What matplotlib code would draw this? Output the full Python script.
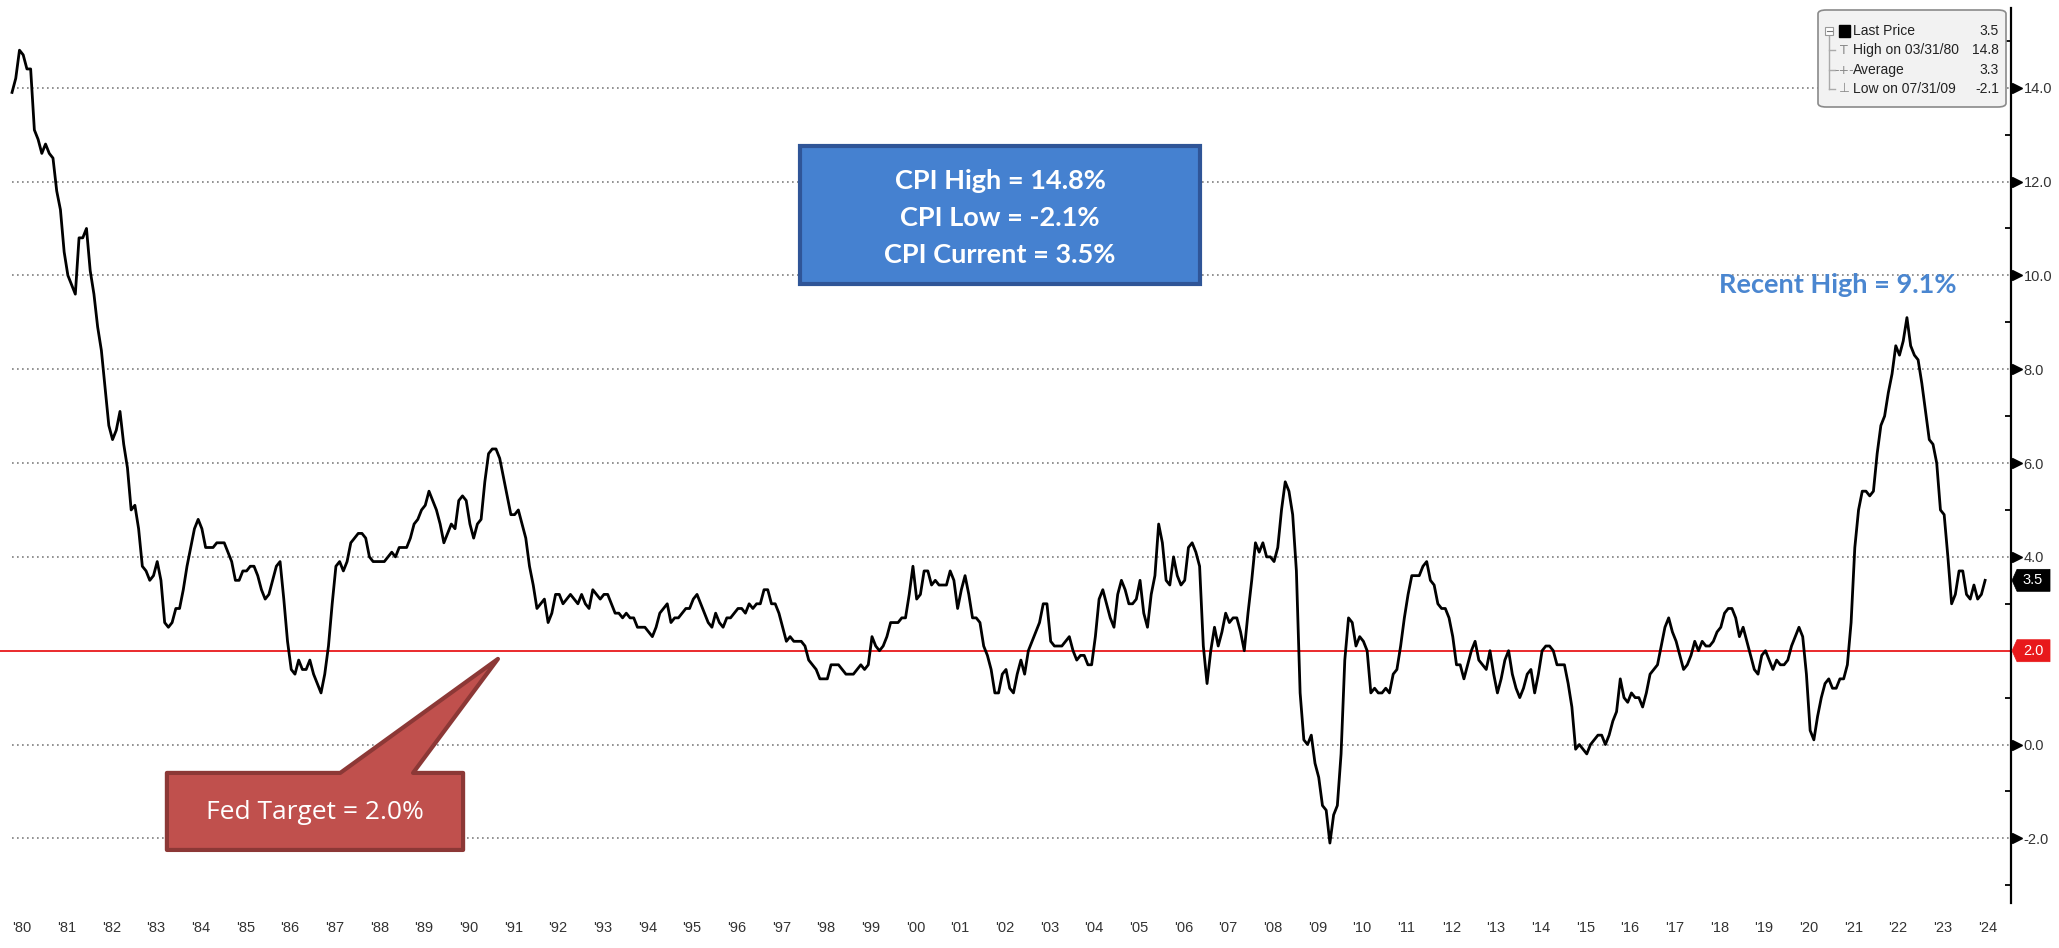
# US CPI year-over-year, Bloomberg-style chart with annotations.

import numpy as np
import matplotlib.pyplot as plt
import matplotlib.transforms as mtransforms
from matplotlib.patches import Polygon, FancyBboxPatch, Rectangle
from matplotlib.lines import Line2D

# monthly CPI YoY %, Jan 1980 .. Mar 2024
cpi_yoy = [
    13.9, 14.2, 14.8, 14.7, 14.4, 14.4, 13.1, 12.9, 12.6, 12.8, 12.6, 12.5,  # 1980
    11.8, 11.4, 10.5, 10.0, 9.8, 9.6, 10.8, 10.8, 11.0, 10.1, 9.6, 8.9,      # 1981
    8.4, 7.6, 6.8, 6.5, 6.7, 7.1, 6.4, 5.9, 5.0, 5.1, 4.6, 3.8,              # 1982
    3.7, 3.5, 3.6, 3.9, 3.5, 2.6, 2.5, 2.6, 2.9, 2.9, 3.3, 3.8,              # 1983
    4.2, 4.6, 4.8, 4.6, 4.2, 4.2, 4.2, 4.3, 4.3, 4.3, 4.1, 3.9,              # 1984
    3.5, 3.5, 3.7, 3.7, 3.8, 3.8, 3.6, 3.3, 3.1, 3.2, 3.5, 3.8,              # 1985
    3.9, 3.1, 2.2, 1.6, 1.5, 1.8, 1.6, 1.6, 1.8, 1.5, 1.3, 1.1,              # 1986
    1.5, 2.1, 3.0, 3.8, 3.9, 3.7, 3.9, 4.3, 4.4, 4.5, 4.5, 4.4,              # 1987
    4.0, 3.9, 3.9, 3.9, 3.9, 4.0, 4.1, 4.0, 4.2, 4.2, 4.2, 4.4,              # 1988
    4.7, 4.8, 5.0, 5.1, 5.4, 5.2, 5.0, 4.7, 4.3, 4.5, 4.7, 4.6,              # 1989
    5.2, 5.3, 5.2, 4.7, 4.4, 4.7, 4.8, 5.6, 6.2, 6.3, 6.3, 6.1,              # 1990
    5.7, 5.3, 4.9, 4.9, 5.0, 4.7, 4.4, 3.8, 3.4, 2.9, 3.0, 3.1,              # 1991
    2.6, 2.8, 3.2, 3.2, 3.0, 3.1, 3.2, 3.1, 3.0, 3.2, 3.0, 2.9,              # 1992
    3.3, 3.2, 3.1, 3.2, 3.2, 3.0, 2.8, 2.8, 2.7, 2.8, 2.7, 2.7,              # 1993
    2.5, 2.5, 2.5, 2.4, 2.3, 2.5, 2.8, 2.9, 3.0, 2.6, 2.7, 2.7,              # 1994
    2.8, 2.9, 2.9, 3.1, 3.2, 3.0, 2.8, 2.6, 2.5, 2.8, 2.6, 2.5,              # 1995
    2.7, 2.7, 2.8, 2.9, 2.9, 2.8, 3.0, 2.9, 3.0, 3.0, 3.3, 3.3,              # 1996
    3.0, 3.0, 2.8, 2.5, 2.2, 2.3, 2.2, 2.2, 2.2, 2.1, 1.8, 1.7,              # 1997
    1.6, 1.4, 1.4, 1.4, 1.7, 1.7, 1.7, 1.6, 1.5, 1.5, 1.5, 1.6,              # 1998
    1.7, 1.6, 1.7, 2.3, 2.1, 2.0, 2.1, 2.3, 2.6, 2.6, 2.6, 2.7,              # 1999
    2.7, 3.2, 3.8, 3.1, 3.2, 3.7, 3.7, 3.4, 3.5, 3.4, 3.4, 3.4,              # 2000
    3.7, 3.5, 2.9, 3.3, 3.6, 3.2, 2.7, 2.7, 2.6, 2.1, 1.9, 1.6,              # 2001
    1.1, 1.1, 1.5, 1.6, 1.2, 1.1, 1.5, 1.8, 1.5, 2.0, 2.2, 2.4,              # 2002
    2.6, 3.0, 3.0, 2.2, 2.1, 2.1, 2.1, 2.2, 2.3, 2.0, 1.8, 1.9,              # 2003
    1.9, 1.7, 1.7, 2.3, 3.1, 3.3, 3.0, 2.7, 2.5, 3.2, 3.5, 3.3,              # 2004
    3.0, 3.0, 3.1, 3.5, 2.8, 2.5, 3.2, 3.6, 4.7, 4.3, 3.5, 3.4,              # 2005
    4.0, 3.6, 3.4, 3.5, 4.2, 4.3, 4.1, 3.8, 2.1, 1.3, 2.0, 2.5,              # 2006
    2.1, 2.4, 2.8, 2.6, 2.7, 2.7, 2.4, 2.0, 2.8, 3.5, 4.3, 4.1,              # 2007
    4.3, 4.0, 4.0, 3.9, 4.2, 5.0, 5.6, 5.4, 4.9, 3.7, 1.1, 0.1,              # 2008
    0.0, 0.2, -0.4, -0.7, -1.3, -1.4, -2.1, -1.5, -1.3, -0.2, 1.8, 2.7,      # 2009
    2.6, 2.1, 2.3, 2.2, 2.0, 1.1, 1.2, 1.1, 1.1, 1.2, 1.1, 1.5,              # 2010
    1.6, 2.1, 2.7, 3.2, 3.6, 3.6, 3.6, 3.8, 3.9, 3.5, 3.4, 3.0,              # 2011
    2.9, 2.9, 2.7, 2.3, 1.7, 1.7, 1.4, 1.7, 2.0, 2.2, 1.8, 1.7,              # 2012
    1.6, 2.0, 1.5, 1.1, 1.4, 1.8, 2.0, 1.5, 1.2, 1.0, 1.2, 1.5,              # 2013
    1.6, 1.1, 1.5, 2.0, 2.1, 2.1, 2.0, 1.7, 1.7, 1.7, 1.3, 0.8,              # 2014
    -0.1, 0.0, -0.1, -0.2, 0.0, 0.1, 0.2, 0.2, 0.0, 0.2, 0.5, 0.7,           # 2015
    1.4, 1.0, 0.9, 1.1, 1.0, 1.0, 0.8, 1.1, 1.5, 1.6, 1.7, 2.1,              # 2016
    2.5, 2.7, 2.4, 2.2, 1.9, 1.6, 1.7, 1.9, 2.2, 2.0, 2.2, 2.1,              # 2017
    2.1, 2.2, 2.4, 2.5, 2.8, 2.9, 2.9, 2.7, 2.3, 2.5, 2.2, 1.9,              # 2018
    1.6, 1.5, 1.9, 2.0, 1.8, 1.6, 1.8, 1.7, 1.7, 1.8, 2.1, 2.3,              # 2019
    2.5, 2.3, 1.5, 0.3, 0.1, 0.6, 1.0, 1.3, 1.4, 1.2, 1.2, 1.4,              # 2020
    1.4, 1.7, 2.6, 4.2, 5.0, 5.4, 5.4, 5.3, 5.4, 6.2, 6.8, 7.0,              # 2021
    7.5, 7.9, 8.5, 8.3, 8.6, 9.1, 8.5, 8.3, 8.2, 7.7, 7.1, 6.5,              # 2022
    6.4, 6.0, 5.0, 4.9, 4.0, 3.0, 3.2, 3.7, 3.7, 3.2, 3.1, 3.4,              # 2023
    3.1, 3.2, 3.5,                                                           # 2024
]
start_year = 1980

years = list(range(1980, 2025))
year_labels = ["'%02d" % (y % 100) for y in years]
y_major = [-2, 0, 2, 4, 6, 8, 10, 12, 14]
y_minor = [-3, -1, 1, 3, 5, 7, 9, 11, 13, 15]

fed_target = 2.0
last_price = cpi_yoy[-1]
summary_lines = ['CPI High = 14.8%', 'CPI Low = -2.1%', 'CPI Current = 3.5%']
recent_high_text = 'Recent High = 9.1%'
legend_rows = [('Last Price', '3.5'), ('High on 03/31/80', '14.8'),
               ('Average', '3.3'), ('Low on 07/31/09', '-2.1')]

# month-end positions in fractional years
x = start_year + (np.arange(len(cpi_yoy)) + 1) / 12.0

plt.rcParams['font.family'] = ['Liberation Sans', 'DejaVu Sans']

fig = plt.figure(figsize=(20.59, 9.48), dpi=100, facecolor='white')
ax = fig.add_axes([0.0, 0.0475, 0.9767, 0.9444])

xmin, xmax = 1979.814, 2024.83
ax.set_xlim(xmin, xmax)
ax.set_ylim(-3.377, 15.706)

# dotted grid from first data point
grid = [v for v in y_major if v != fed_target]
ax.hlines(grid, x[0], xmax, colors='#7f7f7f', linestyles=(0, (1, 2)), lw=1.2, zorder=1)
ax.axhline(fed_target, color='#e8191b', lw=1.3, zorder=2)

ax.plot(x, cpi_yoy, color='black', lw=2.0, zorder=3)

# spines / ticks
for s in ['left', 'top', 'bottom']:
    ax.spines[s].set_visible(False)
ax.spines['right'].set_linewidth(1.6)
ax.yaxis.tick_right()
ax.set_yticks(y_major)
# the 2.0 level is shown by its red tag instead of a plain label
ax.set_yticklabels(['' if v == fed_target else '%.1f' % v for v in y_major])
ax.set_yticks(y_minor, minor=True)
ax.tick_params(axis='y', which='major', length=0, pad=9, labelsize=10.5, labelcolor='#333333')
ax.tick_params(axis='y', which='minor', length=4, width=1.3, direction='in')
ytrans = mtransforms.blended_transform_factory(ax.transAxes, ax.transData)
arrow_levels = [v for v in y_major if v != fed_target]
ax.plot([1.003] * len(arrow_levels), arrow_levels, ls='none', marker='>', ms=7, color='black',
        transform=ytrans, clip_on=False, zorder=5)

ax.set_xticks(years)
ax.set_xticklabels(year_labels)
ax.tick_params(axis='x', length=0, pad=13, labelsize=10.5, labelcolor='#333333')
offset = mtransforms.ScaledTranslation(4 / 100, 0, fig.dpi_scale_trans)
for t in ax.get_xticklabels():
    t.set_ha('left')
    t.set_transform(t.get_transform() + offset)


# value tags on the axis: notched box whose point touches the spine
def axis_tag(value, colour):
    sx, sy = ax.transData.transform((xmax, value))
    pts = [(sx + 1, sy), (sx + 6, sy + 11), (sx + 39, sy + 11),
           (sx + 39, sy - 11), (sx + 6, sy - 11)]
    fig.patches.append(Polygon(pts, closed=True, transform=None, fc=colour, ec=colour,
                               lw=0.5, zorder=8))
    fig.text((sx + 22) / fig.bbox.width, sy / fig.bbox.height, '%.1f' % value,
             color='white', fontsize=10.5, ha='center', va='center', zorder=9)


axis_tag(last_price, 'black')
axis_tag(fed_target, '#e8191b')

# blue summary box
ax.add_patch(Rectangle((1997.72, 9.82), 2006.68 - 1997.72, 12.76 - 9.82,
                       fc='#4581d0', ec='#2f5597', lw=3, zorder=6))
for i, line in enumerate(summary_lines):
    ax.text(2002.2, 12.02 - i * 0.79, line, color='white', fontsize=19.5, fontweight='bold',
            family='Lato', ha='center', va='center', zorder=7)

ax.text(2020.95, 9.80, recent_high_text, color='#4a86d0', fontsize=19.5, fontweight='bold',
        family='Lato', ha='center', va='center', zorder=7)

# red callout pointing at the Fed target line
callout = [(1983.55, -0.605), (1987.43, -0.605), (1990.96, 1.825), (1989.06, -0.605),
           (1990.18, -0.605), (1990.18, -2.247), (1983.55, -2.247)]
ax.add_patch(Polygon(callout, closed=True, fc='#c0504d', ec='#8c3836', lw=3,
                     joinstyle='round', zorder=6))
ax.text((1983.55 + 1990.18) / 2, -1.45, 'Fed Target = 2.0%', color='white', fontsize=19,
        family='Open Sans', ha='center', va='center', zorder=7)

# legend box top right (figure pixels)
W, H = 2059.0, 948.0
def fx(px):
    return px / W
def fy(py):
    return 1 - py / H

fig.patches.append(FancyBboxPatch((fx(1818), fy(107)), fx(2006) - fx(1818), fy(10) - fy(107),
                                  boxstyle='round,pad=0,rounding_size=0.004',
                                  transform=fig.transFigure, fc='#f2f2f2', ec='#8a8a8a', lw=1.2,
                                  zorder=10))
row_y = [31, 50, 70, 89]
gray = '#8a8a8a'
# tree lines
fig.lines.append(Line2D([fx(1829), fx(1829)], [fy(36), fy(89)], transform=fig.transFigure,
                        color='#aaaaaa', lw=1, zorder=11))
for py in row_y[1:]:
    fig.lines.append(Line2D([fx(1829), fx(1835)], [fy(py), fy(py)], transform=fig.transFigure,
                            color='#aaaaaa', lw=1, zorder=11))
fig.patches.append(Rectangle((fx(1825), fy(35)), fx(8), fy(0) - fy(8), transform=fig.transFigure,
                             fc='white', ec='#999999', lw=0.8, zorder=12))
fig.lines.append(Line2D([fx(1826.5), fx(1831.5)], [fy(31), fy(31)], transform=fig.transFigure,
                        color='#777777', lw=0.8, zorder=13))
fig.patches.append(Rectangle((fx(1839), fy(37)), fx(11), fy(0) - fy(12), transform=fig.transFigure,
                             fc='black', ec='black', zorder=12))
symbols = [None, 'T', '-+-', '\u22a5']
for (label, val), py, sym in zip(legend_rows, row_y, symbols):
    fig.text(fx(1853), fy(py), label, fontsize=10, va='center', ha='left', color='#222222', zorder=13)
    fig.text(fx(1999), fy(py), val, fontsize=10, va='center', ha='right', color='#222222', zorder=13)
    if sym:
        fig.text(fx(1844), fy(py), sym, fontsize=9, va='center', ha='center', color=gray,
                 family='DejaVu Sans', zorder=13)

fig.savefig('out.png', dpi=100, facecolor='white')
